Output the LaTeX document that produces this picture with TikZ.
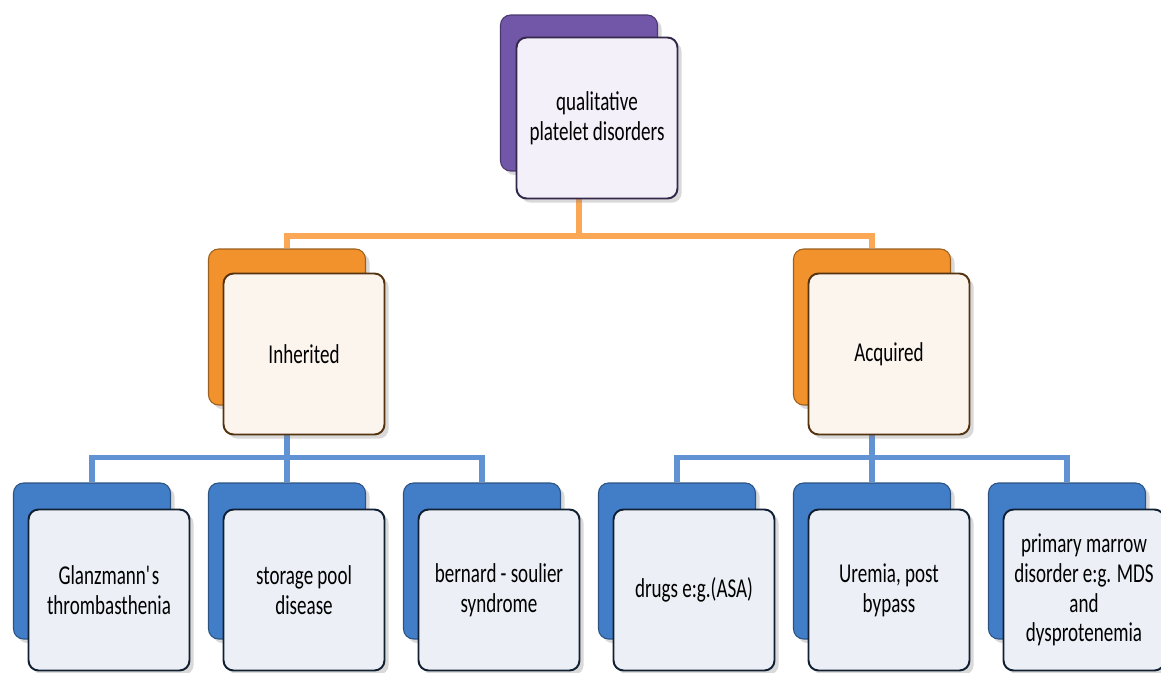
\documentclass[tikz,border=0pt]{standalone}
\usepackage{fontspec}
\setmainfont{Carlito}[FakeStretch=0.7]
\usetikzlibrary{backgrounds,shadows}
\definecolor{purp}{RGB}{114,86,168}
\definecolor{orng}{RGB}{242,146,44}
\definecolor{blu}{RGB}{66,126,200}
\definecolor{lav}{RGB}{243,240,249}
\definecolor{cream}{RGB}{252,245,238}
\definecolor{ice}{RGB}{236,240,246}
\definecolor{olin}{RGB}{250,168,86}
\definecolor{blin}{RGB}{96,146,212}
\newcommand\boxfont{\fontsize{15.5}{17}\selectfont\fontdimen2\font=2.4pt\fontdimen3\font=0.5pt\fontdimen4\font=0.5pt\relax}
\begin{document}
\begin{tikzpicture}[x=0.02cm,y=-0.02cm,font=\boxfont,
    backbox/.style={rounded corners=0.2cm,minimum width=3.14cm,minimum height=3.12cm,
        fill=#1,draw=#1!65!black,line width=0.6pt,drop shadow={opacity=0.3}},
    frontbox/.style={rounded corners=0.2cm,minimum width=3.22cm,minimum height=3.22cm,
        fill=#1,line width=1.1pt,inner sep=0pt,text width=3cm,align=flush center,
        drop shadow={opacity=0.3}},
    oline/.style={olin,line width=3.4pt},
    bline/.style={blin,line width=3pt}]
    \useasboundingbox (0,0) rectangle (1161,673);
    %\draw[gray!40] (0,0) grid[step=50] (1161,673);
    \node[backbox=purp] (top-b) at (579,93) {};
    \node[frontbox=lav,draw=purp!45!black] (top) at (597,118) {qualitative\\platelet disorders};
    \node[backbox=orng] (inh-b) at (287,327) {};
    \node[frontbox=cream,draw=orng!35!black] (inh) at (304,354) {Inherited};
    \node[backbox=orng] (acq-b) at (872,327) {};
    \node[frontbox=cream,draw=orng!35!black] (acq) at (889,354) {Acquired};
    \foreach \x/\n/\t in {92/glanz/{Glanzmann\textquotesingle s\\thrombasthenia},
                          287/pool/{storage pool\\disease},
                          482/bern/{bernard - soulier\\syndrome},
                          677/drug/{drugs e:g.(ASA)},
                          872/urem/{Uremia, post\\bypass},
                          1067/marr/{primary marrow\\disorder e:g. MDS\\and\\dysprotenemia}}
    {
        \node[backbox=blu] (\n-b) at (\x,561) {};
        \node[frontbox=ice,draw=blu!25!black] (\n) at (\x+17,590) {\t};
    }
    \begin{scope}[on background layer]
        \draw[oline] (top-b.south) -- ++(0,64) -| (inh-b.north);
        \draw[oline] (top-b.south) -- ++(0,64) -| (acq-b.north);
        \foreach \n in {glanz,pool,bern}
        \draw[bline] (inh-b.south) -- ++(0,52) -| (\n-b.north);
        \foreach \n in {drug,urem,marr}
        \draw[bline] (acq-b.south) -- ++(0,52) -| (\n-b.north);
    \end{scope}
\end{tikzpicture}
\end{document}
